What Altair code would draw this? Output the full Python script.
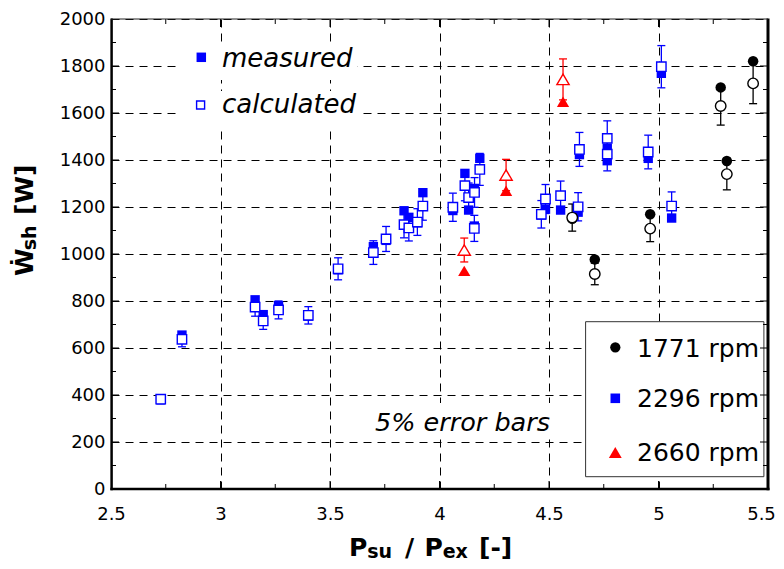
import altair as alt
import pandas as pd

# ---------------- data ----------------
rpm_labels = ["1771 rpm", "2296 rpm", "2660 rpm"]
rpm_colors = ["#000000", "#0000ff", "#ff0000"]
TRI = "M0,-0.85L1,0.85L-1,0.85Z"
rpm_shapes = ["circle", "square", TRI]

r1771_x = [4.606, 4.709, 4.962, 5.284, 5.312, 5.432]
r1771_meas = [1150, 977, 1169, 1709, 1396, 1820]
r1771_calc = [1155, 915, 1108, 1630, 1340, 1726]

r2296_x = [2.727, 2.824, 3.158, 3.195, 3.265, 3.401, 3.537, 3.698, 3.756, 3.838,
           3.860, 3.899, 3.924, 4.061, 4.116, 4.133, 4.160, 4.159, 4.184, 4.465,
           4.484, 4.553, 4.633, 4.639, 4.766, 4.766, 4.953, 5.013, 5.060]
r2296_meas = [380, 655, 805, 742, 780, 736, 933, 1031, 1058, 1184,
              1156, 1133, 1261, 1185, 1343, 1187, 1279, 1119, 1407, 1166,
              1191, 1187, 1178, 1423, 1450, 1397, 1407, 1769, 1153]
r2296_calc = [382, 637, 774, 715, 762, 739, 937, 1006, 1064, 1125,
              1111, 1136, 1204, 1199, 1291, 1240, 1262, 1109, 1360, 1169,
              1234, 1248, 1201, 1445, 1492, 1425, 1434, 1797, 1204]

r2660_x = [4.113, 4.304, 4.564]
r2660_meas = [928, 1269, 1648]
r2660_calc = [1017, 1336, 1743]

error_fraction = 0.05

x_ticks = [2.5, 3, 3.5, 4, 4.5, 5, 5.5]
y_ticks = [0, 200, 400, 600, 800, 1000, 1200, 1400, 1600, 1800, 2000]
x_major = [3.0, 3.5, 4.0, 4.5, 5.0]
x_minor = [2.75, 3.25, 3.75, 4.25, 4.75, 5.25]
y_major = [200, 400, 600, 800, 1000, 1200, 1400, 1600, 1800]
y_minor = [100, 300, 500, 700, 900, 1100, 1300, 1500, 1700, 1900]

# ---------------- tables ----------------
frames = []
for lab, xs_, ms_, cs_ in [("1771 rpm", r1771_x, r1771_meas, r1771_calc),
                           ("2296 rpm", r2296_x, r2296_meas, r2296_calc),
                           ("2660 rpm", r2660_x, r2660_meas, r2660_calc)]:
    frames.append(pd.DataFrame({"ratio": xs_, "measured": ms_, "calculated": cs_, "rpm": lab}))
df = pd.concat(frames, ignore_index=True)

W, H = 657, 470
FONT = "DejaVu Sans"

xs = alt.Scale(domain=[2.5, 5.5], nice=False, zero=False)
ys = alt.Scale(domain=[0, 2000], nice=False, zero=False)
xaxis = alt.Axis(values=x_ticks, format="~g", title=None, grid=True, gridDash=[8, 6],
                 gridColor="black", gridWidth=1, gridOpacity=1, ticks=False, tickSize=0,
                 domain=False, labelFont=FONT, labelFontSize=18, labelColor="black",
                 labelPadding=16, labelFlush=False,
                 labelOffset=alt.expr("datum.value == 5.5 ? -7 : 0"))
yaxis = alt.Axis(values=y_ticks, format="d", title=None, grid=True, gridDash=[8, 6],
                 gridColor="black", gridWidth=1, gridOpacity=1, ticks=False, tickSize=0,
                 domain=False, labelFont=FONT, labelFontSize=18, labelColor="black",
                 labelPadding=6, labelFlush=False)

color_scale = alt.Scale(domain=rpm_labels, range=rpm_colors)
shape_scale = alt.Scale(domain=rpm_labels, range=rpm_shapes)

X = alt.X("ratio:Q", scale=xs, axis=xaxis)
base = alt.Chart(df)

one = pd.DataFrame({"k": [0]})


def box(x1, x2, y1, y2, **kw):
    return alt.Chart(one).mark_rect(**kw).encode(
        x=alt.value(x1), x2=alt.value(x2), y=alt.value(y1), y2=alt.value(y2))


def label(txt, x, y, size, **kw):
    return alt.Chart(one).mark_text(font=FONT, fontSize=size, align="left",
                                    baseline="alphabetic", color="black", **kw).encode(
        x=alt.value(x), y=alt.value(y), text=alt.value(txt))


def sym(shape, x, y, size, color, filled=True):
    if filled:
        m = alt.Chart(one).mark_point(shape=shape, filled=True, size=size, opacity=1, color=color)
        return m.encode(x=alt.value(x), y=alt.value(y))
    m = alt.Chart(one).mark_point(shape=shape, filled=False, size=size, opacity=1,
                                  fill="white", stroke=color, strokeWidth=1.4)
    return m.encode(x=alt.value(x), y=alt.value(y))


# white boxes behind the annotation texts and legend
bg1 = box(68.6, 246.6, 24, 61, color="white")
bg2 = box(68.6, 248.6, 72, 110, color="white")
bg3 = box(258, 446, 384, 419, color="white")
legend_box = box(474.6, 652.9, 302.7, 457.7, fill="white", stroke="#333333", strokeWidth=1)

# data marks
measured = base.mark_point(filled=True, opacity=1).encode(
    x=X,
    y=alt.Y("measured:Q", scale=ys, axis=yaxis),
    color=alt.Color("rpm:N", scale=color_scale, legend=None),
    shape=alt.Shape("rpm:N", scale=shape_scale, legend=None),
    size=alt.Size("rpm:N", scale=alt.Scale(type="ordinal", domain=rpm_labels,
                                           range=[110, 88, 150]), legend=None),
)

err = base.transform_calculate(
    lo=f"datum.calculated * (1 - {error_fraction})",
    hi=f"datum.calculated * (1 + {error_fraction})",
)
err_rule = err.mark_rule(strokeWidth=1.3).encode(
    x=X,
    y=alt.Y("lo:Q", scale=ys, axis=yaxis),
    y2="hi:Q",
    color=alt.Color("rpm:N", scale=color_scale, legend=None),
)
cap_lo = err.mark_tick(orient="horizontal", size=8, thickness=1.3, opacity=1).encode(
    x=X, y=alt.Y("lo:Q", scale=ys, axis=yaxis),
    color=alt.Color("rpm:N", scale=color_scale, legend=None),
)
cap_hi = err.mark_tick(orient="horizontal", size=8, thickness=1.3, opacity=1).encode(
    x=X, y=alt.Y("hi:Q", scale=ys, axis=yaxis),
    color=alt.Color("rpm:N", scale=color_scale, legend=None),
)

calculated = base.mark_point(filled=False, opacity=1, strokeWidth=1.4).encode(
    x=X,
    y=alt.Y("calculated:Q", scale=ys, axis=yaxis),
    stroke=alt.Stroke("rpm:N", scale=color_scale, legend=None),
    fill=alt.value("white"),
    shape=alt.Shape("rpm:N", scale=shape_scale, legend=None),
    size=alt.Size("rpm:N", scale=alt.Scale(type="ordinal", domain=rpm_labels,
                                           range=[88, 68, 125]), legend=None),
)

# inward ticks
def xticks(vals, length):
    d = pd.DataFrame({"t": vals})
    c = alt.Chart(d).mark_rule(color="black", strokeWidth=1)
    b = c.encode(x=alt.X("t:Q", scale=xs, axis=xaxis), y=alt.value(H), y2=alt.value(H - length))
    t = c.encode(x=alt.X("t:Q", scale=xs, axis=xaxis), y=alt.value(0), y2=alt.value(length))
    return [b, t]


def yticks(vals, length):
    d = pd.DataFrame({"t": vals})
    c = alt.Chart(d).mark_rule(color="black", strokeWidth=1)
    l = c.encode(y=alt.Y("t:Q", scale=ys, axis=yaxis), x=alt.value(0), x2=alt.value(length))
    r = c.encode(y=alt.Y("t:Q", scale=ys, axis=yaxis), x=alt.value(W), x2=alt.value(W - length))
    return [l, r]


tick_layers = xticks(x_major, 8) + xticks(x_minor, 5) + yticks(y_major, 8) + yticks(y_minor, 5)

# frame
frame_left = alt.Chart(one).mark_rule(color="black", strokeWidth=2.5).encode(
    x=alt.value(0.6), y=alt.value(-0.5), y2=alt.value(H + 1.25))
frame_right = alt.Chart(one).mark_rule(color="black", strokeWidth=3).encode(
    x=alt.value(W), y=alt.value(-0.5), y2=alt.value(H + 1.25))
frame_bottom = alt.Chart(one).mark_rule(color="black", strokeWidth=2.5).encode(
    y=alt.value(H), x=alt.value(-0.6), x2=alt.value(W + 1.5))
frame_top = alt.Chart(one).mark_rule(color="#222222", strokeWidth=1).encode(
    y=alt.value(0), x=alt.value(0), x2=alt.value(W))

# annotation texts
t_meas = label("measured", 111, 47.7, 26, fontStyle="italic")
t_calc = label("calculated", 111, 94.3, 26, fontStyle="italic")
t_err = label("5% error bars", 264, 411.7, 25.5, fontStyle="italic")
s_meas = sym("square", 90.3, 38.3, 90, "#0000ff", True)
s_calc = sym("square", 89.6, 86, 64, "#0000ff", False)

# rpm legend
leg_syms = [sym("circle", 504.3, 328.3, 105, "#000000"),
            sym("square", 504.3, 379.3, 92, "#0000ff"),
            sym(TRI, 504.3, 433.5, 165, "#ff0000")]
leg_txt = [label("1771 rpm", 526, 337.7, 25),
           label("2296 rpm", 526, 387.7, 25),
           label("2660 rpm", 526, 441.7, 25)]

# axis titles (pieces for subscripts)
xt = [label("P", 238, 536.7, 25, fontWeight="bold"),
      label("su", 256.3, 539.3, 19, fontWeight="bold"),
      label("/", 294, 536.7, 25, fontWeight="bold"),
      label("P", 313.4, 536.7, 25, fontWeight="bold"),
      label("ex", 331.7, 539.3, 19, fontWeight="bold"),
      label("[-]", 368, 536.7, 25, fontWeight="bold")]
yt = [label("Ẇ", -78.1, 257, 25, fontWeight="bold", angle=270),
      label("sh", -75.3, 231.3, 19, fontWeight="bold", angle=270),
      label("[W]", -78.1, 196, 25, fontWeight="bold", angle=270)]

chart = alt.layer(
    bg1, bg2, bg3, legend_box,
    measured, err_rule, cap_lo, cap_hi, calculated,
    *tick_layers,
    frame_left, frame_right, frame_bottom, frame_top,
    s_meas, s_calc, t_meas, t_calc, t_err,
    *leg_syms, *leg_txt, *xt, *yt,
).properties(
    width=W, height=H,
    padding={"left": 103, "top": 11, "right": 8, "bottom": 72},
    autosize=alt.AutoSizeParams(type="none"),
    background="white",
).configure_view(stroke=None)

chart.save("out.html", embed_options={"renderer": "svg", "actions": False})
